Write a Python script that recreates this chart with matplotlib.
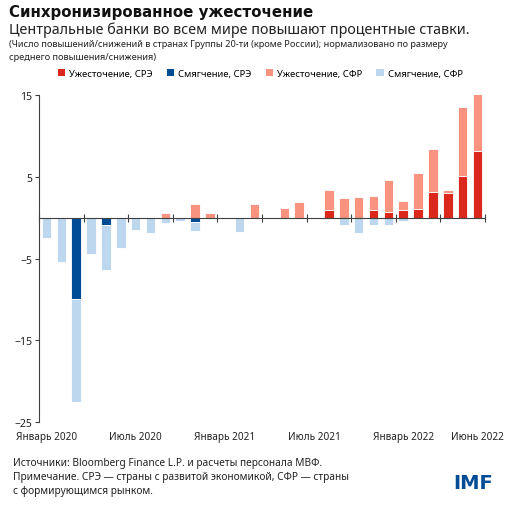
import numpy as np
import matplotlib
matplotlib.use("Agg")
from matplotlib import pyplot as plt
from matplotlib.patches import Patch
from matplotlib.transforms import blended_transform_factory

plt.rcParams['font.family'] = ['Noto Sans', 'DejaVu Sans']

# Monthly data, Jan 2020 .. Jun 2022 (30 months)
months = np.arange(30)
tight_ae = [0, 0, 0, 0, 0, 0, 0, 0, 0, 0,
            0, 0, 0, 0, 0, 0, 0, 0, 0, 0.95,
            0, 0, 0.95, 0.7, 0.95, 1.05, 3.15, 3.0, 5.15, 8.15]
tight_em = [0, 0, 0, 0, 0, 0, 0, 0, 0.6, 0,
            1.65, 0.6, 0, 0, 1.7, 0, 1.25, 1.95, 0, 2.4,
            2.4, 2.5, 1.65, 3.9, 1.15, 4.4, 5.2, 0.35, 8.4, 6.95]
ease_ae = [0, 0, -10, 0, -0.85, 0, 0, 0, 0, 0,
           -0.5, 0, 0, 0, 0, 0, 0, 0, 0, 0,
           0, 0, 0, 0, 0, 0, 0, 0, 0, 0]
ease_em = [-2.45, -5.4, -12.5, -4.45, -5.6, -3.7, -1.5, -1.9, -0.7, -0.45,
           -1.1, 0, 0, -1.7, 0, 0, 0, 0, 0, 0,
           -0.95, -1.9, -0.95, -0.95, -0.45, 0, 0, 0, 0, 0]

tick_label_pos = [0, 6, 12, 18, 24, 29]
tick_labels = ['Январь 2020', 'Июль 2020', 'Январь 2021', 'Июль 2021',
               'Январь 2022', 'Июнь 2022']
y_ticks = [15, 5, -5, -15, -25]

series_names = ['Ужесточение, СРЭ', 'Смягчение, СРЭ', 'Ужесточение, СФР', 'Смягчение, СФР']
colors = ['#DA291C', '#004C97', '#F7937F', '#BDD7EE']

fig = plt.figure(figsize=(5.15, 5.06), dpi=100)
ax = fig.add_axes([0.0757, 0.164, 0.866, 0.646])

w = 0.64
kw = dict(width=w, edgecolor='white', linewidth=0.6)
ax.bar(months, tight_ae, color=colors[0], **kw)
ax.bar(months, tight_em, bottom=tight_ae, color=colors[2], **kw)
ax.bar(months, ease_ae, color=colors[1], **kw)
ax.bar(months, ease_em, bottom=ease_ae, color=colors[3], **kw)

ax.set_xlim(-0.5, 29.5)
ax.set_ylim(-25, 15)

for s in ['top', 'right']:
    ax.spines[s].set_visible(False)
ax.spines['left'].set_color('#404040')
ax.spines['left'].set_linewidth(0.8)
ax.spines['bottom'].set_position(('data', 0))
ax.spines['bottom'].set_color('#404040')
ax.spines['bottom'].set_linewidth(0.8)

ax.set_yticks(y_ticks)
ax.tick_params(axis='y', length=3, width=0.8, color='#404040',
               labelsize=7.5, labelcolor='#222222', pad=2)
ax.set_xticks(np.arange(-0.5, 30, 3))
ax.set_xticklabels([])
ax.tick_params(axis='x', direction='inout', length=6, width=0.8, color='#404040')

tr = blended_transform_factory(ax.transData, ax.transAxes)
for p, lab in zip(tick_label_pos, tick_labels):
    ax.text(p, -0.028, lab, transform=tr, ha='center', va='top',
            fontsize=7.2, color='#222222')

# titles
fig.text(0.018, 0.990, 'Синхронизированное ужесточение', fontsize=10.8,
         fontweight='bold', family='DejaVu Sans', va='top', color='#111111')
fig.text(0.018, 0.955, 'Центральные банки во всем мире повышают процентные ставки.',
         fontsize=10.3, va='top', color='#222222')
fig.text(0.018, 0.920,
         '(Число повышений/снижений в странах Группы 20-ти (кроме России); нормализовано по размеру\nсреднего повышения/снижения)',
         fontsize=6.6, va='top', color='#222222', linespacing=1.55)

handles = [Patch(facecolor=c, label=n) for c, n in zip(colors, series_names)]
fig.legend(handles=handles, loc='center', bbox_to_anchor=(0.505, 0.853), ncol=4,
           frameon=False, fontsize=6.8, handlelength=0.8, handleheight=0.8,
           handletextpad=0.4, columnspacing=1.5)

fig.text(0.025, 0.095,
         'Источники: Bloomberg Finance L.P. и расчеты персонала МВФ.\n'
         'Примечание. СРЭ — страны с развитой экономикой, СФР — страны\n'
         'с формирующимся рынком.',
         fontsize=7.3, va='top', color='#222222', linespacing=1.35)
fig.text(0.958, 0.045, 'IMF', fontsize=14, fontweight='bold', family='DejaVu Sans',
         color='#004C97', ha='right', va='center')

fig.savefig('out.png', dpi=100)
